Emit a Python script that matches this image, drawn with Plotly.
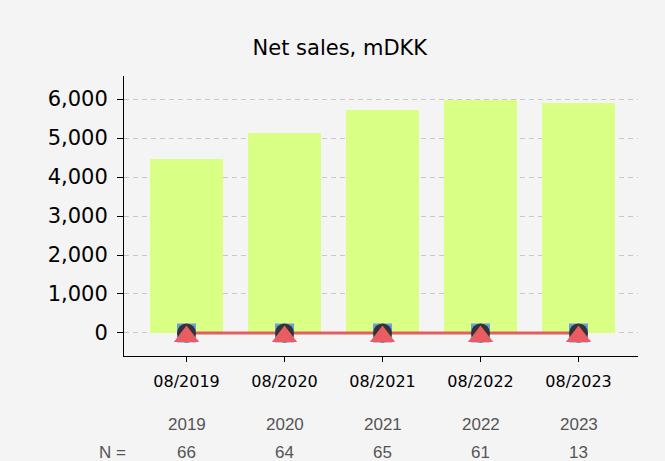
import plotly.graph_objects as go

periods = ["08/2019", "08/2020", "08/2021", "08/2022", "08/2023"]
years = ["2019", "2020", "2021", "2022", "2023"]
n_counts = [66, 64, 65, 61, 13]
net_sales = [4450, 5140, 5730, 5965, 5910]
zero_series = [0, 0, 0, 0, 0]

xs = list(range(len(periods)))
y_range = [-590, 6590]
tri_shift = 90  # centre plotly's triangle glyph on the value (matplotlib-like)

fig = go.Figure()
fig.add_trace(go.Bar(x=xs, y=net_sales, width=0.745, marker=dict(color="#d9ff85", line=dict(width=0)),
                     showlegend=False, hoverinfo="skip"))
fig.add_trace(go.Scatter(x=xs, y=zero_series, mode="lines", line=dict(color="#e06060", width=3),
                         showlegend=False, hoverinfo="skip"))
fig.add_trace(go.Scatter(x=xs, y=zero_series, mode="markers",
                         marker=dict(symbol="square", size=19, color="#6f9ee0", line=dict(width=0)),
                         showlegend=False, hoverinfo="skip"))
fig.add_trace(go.Scatter(x=xs, y=zero_series, mode="markers",
                         marker=dict(symbol="circle", size=19, color="#333333", line=dict(width=0)),
                         showlegend=False, hoverinfo="skip"))
fig.add_trace(go.Scatter(x=xs, y=zero_series, mode="markers", yaxis="y2",
                         marker=dict(symbol="triangle-up", size=22, color="#e85c62", line=dict(width=0)),
                         showlegend=False, hoverinfo="skip"))

annot_font = dict(family="Liberation Sans, Arial", size=17, color="#555555")
annotations = []
for x, yr, n in zip(xs, years, n_counts):
    annotations.append(dict(x=x, y=-0.246, xref="x", yref="paper", text=yr, showarrow=False,
                            font=annot_font, xanchor="center", yanchor="middle"))
    annotations.append(dict(x=x, y=-0.343, xref="x", yref="paper", text=str(n), showarrow=False,
                            font=annot_font, xanchor="center", yanchor="middle"))
annotations.append(dict(x=0.008, y=-0.343, xref="paper", yref="paper", text="N =", showarrow=False,
                        font=annot_font, xanchor="right", yanchor="middle"))

fig.update_layout(
    width=665, height=461,
    paper_bgcolor="#f4f4f4", plot_bgcolor="#f4f4f4",
    margin=dict(l=124, r=27, t=76, b=105),
    title=dict(text="Net sales, mDKK", x=0.511, xanchor="center", y=1 - 48 / 461, yanchor="middle",
               font=dict(family="DejaVu Sans", size=21, color="#000000")),
    font=dict(family="DejaVu Sans", color="#000000"),
    annotations=annotations,
    bargap=0,
    yaxis2=dict(overlaying="y", range=[y_range[0] + tri_shift, y_range[1] + tri_shift], visible=False),
)
fig.update_xaxes(range=[-0.638, 4.607], tickvals=xs, ticktext=periods, showgrid=False, zeroline=False,
                 showline=True, linecolor="#000000", linewidth=1, ticks="outside", ticklen=5,
                 tickcolor="#000000", tickfont=dict(family="DejaVu Sans", size=16, color="#000000"),
                 ticklabelstandoff=6)
fig.update_layout(yaxis=dict(range=y_range, tickvals=[0, 1000, 2000, 3000, 4000, 5000, 6000],
                 tickformat=",d", showgrid=True, gridcolor="#c8c8c8", griddash="5px,4px", gridwidth=1,
                 zeroline=False, showline=True, linecolor="#000000", linewidth=1, ticks="outside",
                 ticklen=6, tickcolor="#000000",
                 tickfont=dict(family="DejaVu Sans", size=21, color="#000000"), ticklabelstandoff=5))

fig.write_html("out.html", config={"displayModeBar": False},
               post_script="document.body.style.margin='0';document.body.style.overflow='hidden';")
